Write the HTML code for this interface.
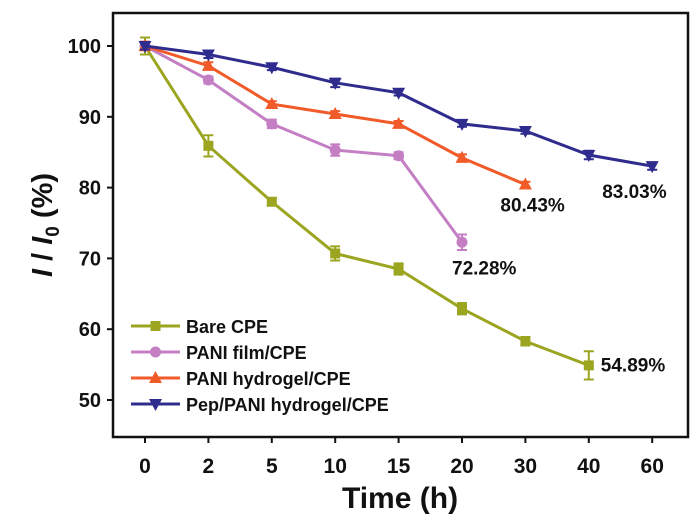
<!DOCTYPE html>
<html><head><meta charset="utf-8"><style>
body{margin:0;background:#fff}
svg text{font-family:"Liberation Sans",Arial,sans-serif;font-weight:bold;fill:#111}
</style></head><body>
<svg id="chart" width="700" height="521" viewBox="0 0 700 521" xmlns="http://www.w3.org/2000/svg">
<rect x="113" y="13" width="575" height="424" fill="none" stroke="#111" stroke-width="2.5"/>
<g id="axes"></g><g id="series"></g><g id="legend"></g>
<text x="400" y="508" font-size="30" text-anchor="middle">Time (h)</text>
<text transform="translate(52,225) rotate(-90)" font-size="29" text-anchor="middle"><tspan font-style="italic">I</tspan> / <tspan font-style="italic">I</tspan><tspan font-size="19" dy="7">0</tspan><tspan dy="-7"> (%)</tspan></text>
</svg>
<script>
const categories=["0","2","5","10","15","20","30","40","60"];
const yTicks=[50,60,70,80,90,100];
const seriesNames=["Bare CPE","PANI film/CPE","PANI hydrogel/CPE","Pep/PANI hydrogel/CPE"];
const bareValues=[100,85.9,78,70.7,68.5,62.9,58.3,54.89];
const bareErrors=[1.2,1.5,0.5,1,0.8,0.8,0.6,2];
const filmValues=[100,95.2,89,85.3,84.5,72.28];
const filmErrors=[0.6,0.5,0.6,0.8,0.5,1.1];
const hydrogelValues=[100,97.2,91.8,90.4,89,84.2,80.43];
const hydrogelErrors=[0.6,0.5,0.4,0.4,0.4,0.5,0.4];
const pepValues=[100,98.8,97,94.8,93.4,89,88,84.6,83.03];
const pepErrors=[0.5,0.5,0.4,0.6,0.4,0.4,0.4,0.6,0.5];
const annotations=["54.89%","72.28%","80.43%","83.03%"];
const NS="http://www.w3.org/2000/svg";
const svg=document.getElementById('chart');
const X=i=>145+i*63.4;
const Y=v=>400-(v-50)*7.08;
function mk(t,a,p){const e=document.createElementNS(NS,t);for(const k in a)e.setAttribute(k,a[k]);p.appendChild(e);return e;}
const axes=document.getElementById('axes');
categories.forEach((c,i)=>{
 const t=mk('line',{x1:X(i),x2:X(i),y1:437,y2:443,stroke:'#111','stroke-width':2},axes);
 
 
 const l=mk('text',{x:X(i),y:473,'font-size':21,'text-anchor':'middle'},axes);l.textContent=c;
 
 
});
yTicks.forEach(v=>{
 const t=mk('line',{x1:107,x2:113,y1:Y(v),y2:Y(v),stroke:'#111','stroke-width':2},axes);
 
 
 const l=mk('text',{x:101,y:Y(v)+7,'font-size':20,'text-anchor':'end'},axes);l.textContent=v;
 
 
});
function marker(shape,x,y,col,p){
 let e;
 if(shape==='square')e=mk('rect',{x:x-5,y:y-5,width:10,height:10,fill:col},p);
 else if(shape==='circle')e=mk('circle',{cx:x,cy:y,r:5.5,fill:col},p);
 else if(shape==='up')e=mk('polygon',{points:`${x},${y-7} ${x+6.5},${y+5} ${x-6.5},${y+5}`,fill:col},p);
 else e=mk('polygon',{points:`${x},${y+7} ${x+6.5},${y-5} ${x-6.5},${y-5}`,fill:col},p);
 return e;
}
const defs=[[bareValues,bareErrors,'#9ba520','square','bare-cpe'],[filmValues,filmErrors,'#c47fc4','circle','pani-film'],[hydrogelValues,hydrogelErrors,'#f15a29','up','pani-hydrogel'],[pepValues,pepErrors,'#2f2c8e','down','pep-pani-hydrogel']];
const sg=document.getElementById('series');
defs.forEach(([vals,errs,col,shape,name])=>{
 const g=mk('g',{},sg);
 
 
 const pl=mk('polyline',{points:vals.map((v,i)=>X(i)+','+Y(v)).join(' '),fill:'none',stroke:col,'stroke-width':3},g);
 
 
 vals.forEach((v,i)=>{
  const x=X(i),e=errs[i];
  const eb=mk('path',{d:`M${x},${Y(v+e)}V${Y(v-e)}M${x-5},${Y(v+e)}h10M${x-5},${Y(v-e)}h10`,stroke:col,'stroke-width':2,fill:'none'},g);
  
  
  const m=marker(shape,x,Y(v),col,g);
  
  
 });
});
const annPos=[[7,bareValues[7],12,6],[5,filmValues[5],-10,32],[6,hydrogelValues[6],-25,27],[8,pepValues[8],-50,32]];
annotations.forEach((a,k)=>{
 const [i,v,dx,dy]=annPos[k];
 const t=mk('text',{x:X(i)+dx,y:Y(v)+dy,'font-size':19},svg);t.textContent=a;
 
 
});
const lg=document.getElementById('legend');
const shapes=['square','circle','up','down'],cols=['#9ba520','#c47fc4','#f15a29','#2f2c8e'];
seriesNames.forEach((n,k)=>{
 const y=326+k*26;
 const g=mk('g',{},lg);
 
 
 mk('line',{x1:131,x2:180,y1:y,y2:y,stroke:cols[k],'stroke-width':3},g);
 marker(shapes[k],155.5,y,cols[k],g);
 const t=mk('text',{x:186,y:y+7,'font-size':18},g);t.textContent=n;
});
</script>
</body></html>
